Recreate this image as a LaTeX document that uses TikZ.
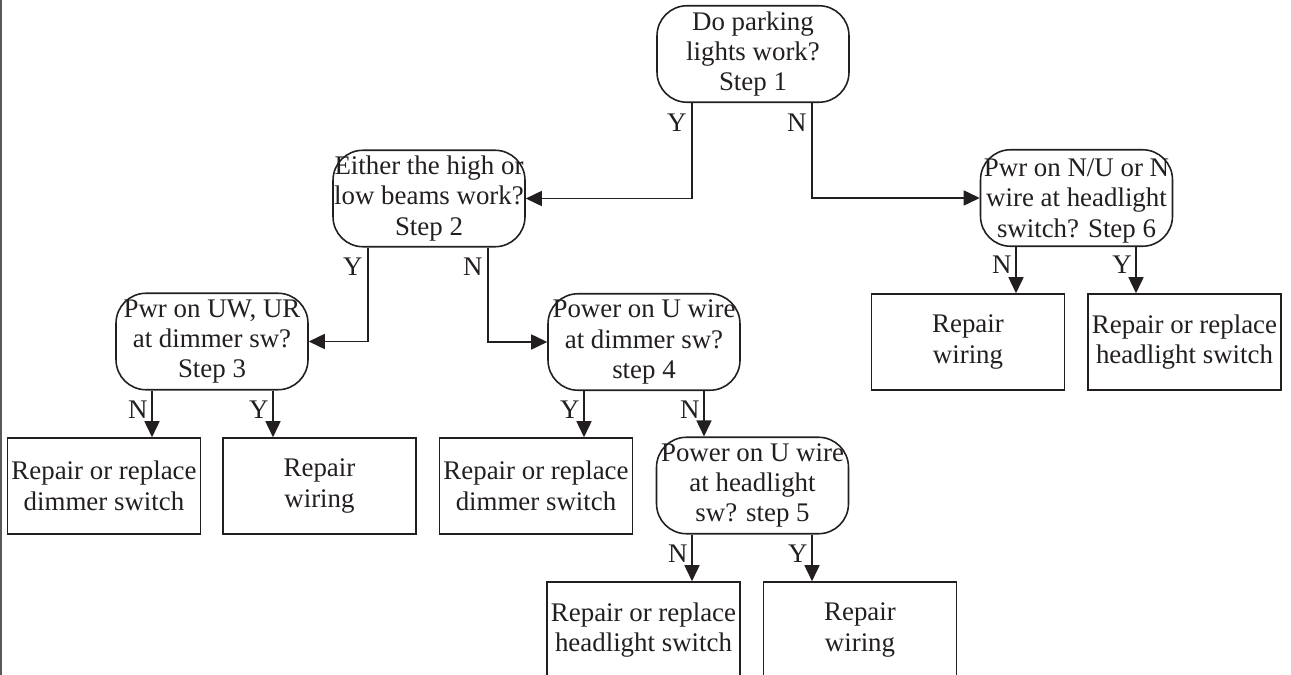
\documentclass[tikz,border=0pt]{standalone}
\usepackage{fontspec}
\setmainfont{Liberation Serif}
\usetikzlibrary{calc,arrows.meta}
\definecolor{ink}{HTML}{231F20}
\begin{document}
\begin{tikzpicture}[x=0.02cm,y=-0.02cm,
  every node/.style={font=\fontsize{15.3}{17.3}\selectfont, text=ink},
  dec/.style={draw=ink, line width=0.9pt, rounded corners=0.6cm, minimum width=3.84cm, minimum height=1.93cm, inner sep=0pt},
  res/.style={draw=ink, line width=0.9pt, minimum width=3.86cm, minimum height=1.92cm, inner sep=0pt, align=center},
  txt/.style={align=center, inner sep=0pt},
  yn/.style={anchor=east, inner sep=0pt},
  arr/.style={draw=ink, line width=0.9pt, -{Triangle[length=0.32cm,width=0.3cm]}}]
\useasboundingbox (0,0) rectangle (1291,675);
\clip (0,0) rectangle (1291,675);
\fill[white] (0,0) rectangle (1291,675);
\draw[gray!70!black, line width=1.2pt] (1.2,0) -- (1.2,675);

% decision nodes
\node[dec] (n1) at (753,54) {};
\node[txt] at (n1) {Do parking\\lights work?\\Step 1};
\node[dec] (n2) at (429,198.5) {};
\node[txt] at (n2) {Either the high or\\low beams work?\\Step 2};
\node[dec] (n6) at (1076.5,198) {};
\node[txt] at ($(n6)+(0,3)$) {Pwr on N/U or N\\wire at headlight\\switch? Step 6};
\node[dec] (n3) at (212,341.5) {};
\node[txt] at (n3) {Pwr on UW, UR\\at dimmer sw?\\Step 3};
\node[dec] (n4) at (644,342) {};
\node[txt] at (n4) {Power on U wire\\at dimmer sw?\\step 4};
\node[dec] (n5) at (752.5,485.5) {};
\node[txt] at (n5) {Power on U wire\\at headlight\\sw? step 5};

% result boxes
\node[res] (b3n) at (104,486) {Repair or replace\\dimmer switch};
\node[res] (b3y) at (319.5,486) {Repair\\wiring};
\node[res] (b4y) at (536,486) {Repair or replace\\dimmer switch};
\node[res] (b6n) at (968,342) {Repair\\wiring};
\node[res] (b6y) at (1184.5,342) {Repair or replace\\headlight switch};
\node[res] (b5n) at (643.5,630) {Repair or replace\\headlight switch};
\node[res] (b5y) at (860,630) {Repair\\wiring};

% connectors
\draw[arr] ($(n1.south)+(-61,0)$) |- (n2.east);
\draw[arr] ($(n1.south)+(59,0)$) |- (n6.west);
\draw[arr] ($(n2.south)+(-61,0)$) |- (n3.east);
\draw[arr] ($(n2.south)+(59,0)$) |- (n4.west);
\draw[arr] ($(n3.south)+(-60,0)$) coordinate (t) -- (t |- b3n.north);
\draw[arr] ($(n3.south)+(61,0)$) coordinate (t) -- (t |- b3y.north);
\draw[arr] ($(n4.south)+(-60,0)$) coordinate (t) -- (t |- b4y.north);
\draw[arr] ($(n4.south)+(60,0)$) coordinate (t) -- (t |- n5.north);
\draw[arr] ($(n5.south)+(-60.5,0)$) coordinate (t) -- (t |- b5n.north);
\draw[arr] ($(n5.south)+(59.5,0)$) coordinate (t) -- (t |- b5y.north);
\draw[arr] ($(n6.south)+(-60.5,0)$) coordinate (t) -- (t |- b6n.north);
\draw[arr] ($(n6.south)+(59.5,0)$) coordinate (t) -- (t |- b6y.north);

% labels
\node[yn] (l1y) at ($(n1.south)+(-66,20)$) {Y};
\node[yn] (l1n) at ($(n1.south)+(54,20)$) {N};
\node[yn] (l2y) at ($(n2.south)+(-66,19)$) {Y};
\node[yn] (l2n) at ($(n2.south)+(54,19)$) {N};
\node[yn] (l3n) at ($(n3.south)+(-64,19)$) {N};
\node[yn] (l3y) at ($(n3.south)+(57,19)$) {Y};
\node[yn] (l4y) at ($(n4.south)+(-64,19)$) {Y};
\node[yn] (l4n) at ($(n4.south)+(56,19)$) {N};
\node[yn] (l5n) at ($(n5.south)+(-64.5,19)$) {N};
\node[yn] (l5y) at ($(n5.south)+(55.5,19)$) {Y};
\node[yn] (l6n) at ($(n6.south)+(-64.5,18)$) {N};
\node[yn] (l6y) at ($(n6.south)+(55.5,18)$) {Y};
\end{tikzpicture}
\end{document}
